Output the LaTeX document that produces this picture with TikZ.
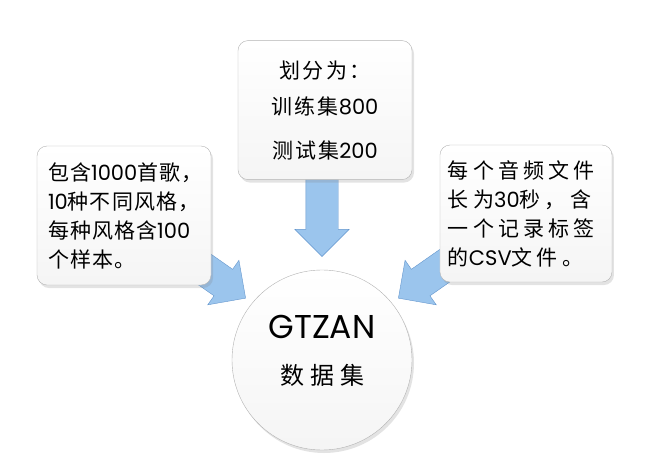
\documentclass[tikz,border=0pt]{standalone}
\usepackage{fontspec}
\setmainfont{Noto Sans CJK SC}
\newfontfamily\lat{Poppins}
\usetikzlibrary{shapes,arrows,positioning,backgrounds,shadows,calc}
\definecolor{arrowfill}{RGB}{155,197,237}
\definecolor{arrowline}{RGB}{100,150,205}
\tikzstyle{softshadow} = [drop shadow={shadow xshift=2pt, shadow yshift=-3pt, opacity=0.22}]
\tikzstyle{box} = [rectangle, draw=black!30, rounded corners=10pt, top color=white, bottom color=black!4, minimum width=174pt, minimum height=139pt, align=left, softshadow, font=\fontsize{21}{29}\selectfont]
\tikzstyle{hub} = [circle, draw=black!30, minimum size=180pt, inner sep=0pt, top color=white, bottom color=black!4, softshadow]
\tikzstyle{fat} = [single arrow, draw=arrowline, fill=arrowfill, inner xsep=0pt, inner ysep=16pt, single arrow head extend=11pt, anchor=tip]

\begin{document}
\begin{tikzpicture}[x=1pt,y=1pt,node distance=2cm and 2cm]
    \useasboundingbox (0,0) rectangle (645,466);
    \node [hub] (gtzan) at (322,106) {};
    \node [font=\lat\fontsize{33}{40}\selectfont] (gtzanname) at ([yshift=33pt]gtzan.center) {GTZAN};
    \node [font=\fontsize{24}{30}\selectfont\addfontfeature{LetterSpace=25}] (gtzansub) at ([yshift=-15pt]gtzan.center) {数据集};

    \node [box, above=90pt of gtzan, xshift=3pt, font=\fontsize{21}{36}\selectfont\addfontfeature{LetterSpace=10}, align=center] (split)
        {划分为：\\ 训练集{\lat 800}\\[8pt] 测试集{\lat 200}};
    \node [box, above left=11pt and 47pt of gtzan, text width=152pt, inner xsep=11pt, font=\fontsize{21}{29}\selectfont\addfontfeature{LetterSpace=5}] (songs)
        {包含{\lat 1000}首歌，\\ {\lat 10}种不同风格，\\ 每种风格含{\lat 100}\\ 个样本。};
    \node [box, above right=14pt and 54pt of gtzan, minimum width=172pt, minimum height=137pt, text width=156pt, inner xsep=8pt, font=\fontsize{21}{29}\selectfont\addfontfeature{LetterSpace=20}] (files)
        {每个音频文件\\ 长为{\lat 30}秒，含\\ 一个记录标签\\ 的{\lat CSV}文件。};

    % block arrows under the boxes
    \begin{pgfonlayer}{background}
      \node [fat, minimum height=97pt, rotate=-90] (tosplit) at ([yshift=13pt]gtzan.north) {};
      \node [fat, minimum height=80pt, rotate=-35] (tosongs) at ($(gtzan.center)+(141:98pt)$) {};
      \node [fat, minimum height=80pt, rotate=-145] (tofiles) at ($(gtzan.center)+(39:98pt)$) {};
    \end{pgfonlayer}
\end{tikzpicture}
\end{document}
